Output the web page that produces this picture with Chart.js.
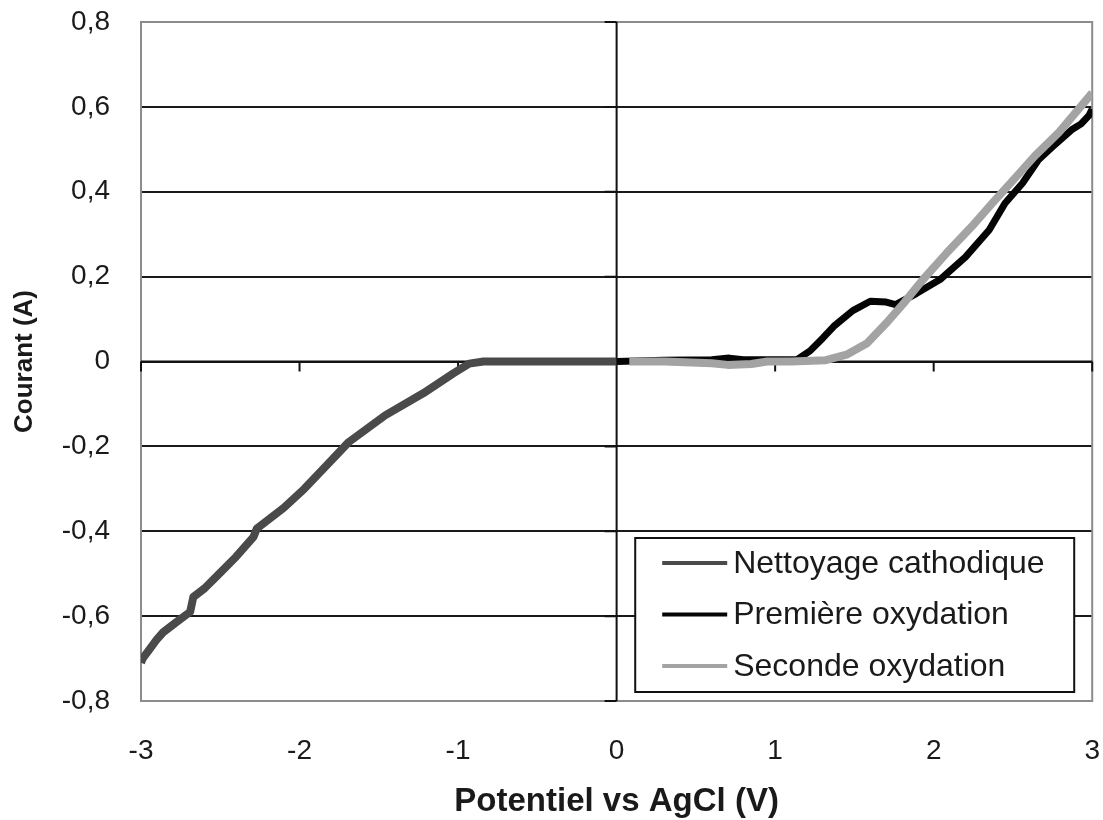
<!DOCTYPE html>
<html>
<head>
<meta charset="utf-8">
<script src="https://cdn.jsdelivr.net/npm/chart.js@4"></script>
<style>
  body { margin: 0; background: #fff; }
  canvas { display: block; }
</style>
</head>
<body>
<canvas id="cvChart" width="1103" height="820"></canvas>
<script>
// values (potential in V, current in A)
const nettoyageX = [-3.0, -2.99, -2.95, -2.9, -2.86, -2.78, -2.69, -2.67, -2.6, -2.52, -2.4, -2.29, -2.27, -2.1, -1.97, -1.83, -1.69, -1.46, -1.22, -1.03, -0.93, -0.84, -0.5, 0.0];
const nettoyageY = [-0.71, -0.70, -0.68, -0.655, -0.638, -0.615, -0.59, -0.555, -0.535, -0.505, -0.46, -0.413, -0.394, -0.345, -0.30, -0.245, -0.19, -0.127, -0.075, -0.028, -0.005, 0, 0, 0];

const premiereX = [0.0, 0.3, 0.6, 0.71, 0.8, 1.0, 1.14, 1.22, 1.3, 1.37, 1.49, 1.6, 1.7, 1.76, 1.89, 2.04, 2.2, 2.35, 2.45, 2.56, 2.66, 2.75, 2.87, 2.93, 2.98, 3.0];
const premiereY = [0.0, 0.003, 0.004, 0.008, 0.004, 0.004, 0.005, 0.025, 0.055, 0.083, 0.12, 0.142, 0.14, 0.134, 0.16, 0.193, 0.246, 0.31, 0.373, 0.42, 0.475, 0.506, 0.546, 0.56, 0.58, 0.595];

const secondeX = [0.08, 0.3, 0.6, 0.7, 0.85, 0.95, 1.1, 1.32, 1.45, 1.58, 1.7, 1.81, 1.93, 2.08, 2.24, 2.37, 2.52, 2.64, 2.79, 2.91, 3.0];
const secondeY = [0.0, 0.0, -0.004, -0.008, -0.006, 0.0, 0.0, 0.003, 0.016, 0.043, 0.09, 0.137, 0.192, 0.255, 0.318, 0.373, 0.435, 0.485, 0.54, 0.593, 0.633];

const seriesNames = ['Nettoyage cathodique', 'Première oxydation', 'Seconde oxydation'];
const xTitle = 'Potentiel vs AgCl (V)';
const yTitle = 'Courant (A)';

const toPoints = (xs, ys) => xs.map((x, i) => ({ x: x, y: ys[i] }));

const FONT = '"Liberation Sans", Arial, sans-serif';

// axes crossing at 0, plot frame and the boxed legend (Excel look)
const excelAxes = {
  id: 'excelAxes',
  beforeDatasetsDraw(chart) {
    const { ctx, chartArea: a, scales: { x, y } } = chart;
    const x0 = x.getPixelForValue(0);
    const y0 = y.getPixelForValue(0);
    ctx.save();
    ctx.strokeStyle = '#8c8c8c';
    ctx.lineWidth = 2;
    ctx.strokeRect(a.left, a.top, a.right - a.left, a.bottom - a.top);

    ctx.strokeStyle = '#111';
    ctx.lineWidth = 2;
    ctx.beginPath();
    ctx.moveTo(a.left, y0);
    ctx.lineTo(a.right, y0);
    x.ticks.forEach(t => {
      const px = x.getPixelForValue(t.value);
      ctx.moveTo(px, y0);
      ctx.lineTo(px, y0 + 10);
    });
    ctx.moveTo(x0, a.top);
    ctx.lineTo(x0, a.bottom);
    y.ticks.forEach(t => {
      const py = y.getPixelForValue(t.value);
      ctx.moveTo(x0 - 12, py);
      ctx.lineTo(x0, py);
    });
    ctx.stroke();
    ctx.restore();
  },
  afterDraw(chart) {
    const { ctx, chartArea: a } = chart;
    const w = 439, h = 154;
    const left = a.right - 18 - w;
    const top = a.bottom - 9 - h;
    ctx.save();
    ctx.fillStyle = '#fff';
    ctx.fillRect(left, top, w, h);
    ctx.strokeStyle = '#111';
    ctx.lineWidth = 2;
    ctx.strokeRect(left, top, w, h);
    ctx.font = '32px ' + FONT;
    ctx.textBaseline = 'middle';
    ctx.textAlign = 'left';
    chart.data.datasets.forEach((ds, i) => {
      const rowY = top + 25 + i * 51.5;
      ctx.strokeStyle = ds.borderColor;
      ctx.lineWidth = 4;
      ctx.beginPath();
      ctx.moveTo(left + 27, rowY);
      ctx.lineTo(left + 92, rowY);
      ctx.stroke();
      ctx.fillStyle = '#1a1a1a';
      ctx.fillText(ds.label, left + 98, rowY + 1);
    });
    ctx.restore();
  }
};

const fmtY = v => (Math.abs(v) < 1e-9 ? '0' : v.toFixed(1).replace('.', ','));
const fmtX = v => String(Math.round(v));

const ctx = document.getElementById('cvChart').getContext('2d');

const cvChart = new Chart(ctx, {
  type: 'line',
  data: {
    datasets: [
      {
        label: seriesNames[0],
        data: toPoints(nettoyageX, nettoyageY),
        borderColor: '#4a4a4a',
        borderWidth: 8,
        order: 2
      },
      {
        label: seriesNames[1],
        data: toPoints(premiereX, premiereY),
        borderColor: '#050505',
        borderWidth: 7,
        order: 1
      },
      {
        label: seriesNames[2],
        data: toPoints(secondeX, secondeY),
        borderColor: '#a3a3a3',
        borderWidth: 8,
        order: 0
      }
    ]
  },
  options: {
    responsive: false,
    animation: false,
    devicePixelRatio: 1,
    layout: { padding: { left: 0, top: 22, right: 10, bottom: 0 } },
    elements: {
      point: { radius: 0 },
      line: { tension: 0, fill: false, borderJoinStyle: 'round' }
    },
    plugins: {
      legend: { display: false },
      tooltip: { enabled: false }
    },
    scales: {
      x: {
        type: 'linear',
        min: -3,
        max: 3,
        afterFit: s => { s.height = 119; },
        border: { display: false },
        grid: { drawOnChartArea: false, drawTicks: true, tickLength: 30, tickColor: 'rgba(0,0,0,0)' },
        ticks: {
          stepSize: 1,
          padding: 3,
          color: '#1a1a1a',
          font: { family: FONT, size: 28 },
          callback: v => fmtX(v)
        },
        title: {
          display: true,
          text: xTitle,
          color: '#1a1a1a',
          padding: { top: 0, bottom: 2 },
          font: { family: FONT, size: 33, weight: 'bold', lineHeight: 1 }
        }
      },
      y: {
        type: 'linear',
        min: -0.8,
        max: 0.8,
        afterFit: s => { s.width = 141; },
        border: { display: false },
        grid: {
          drawTicks: true,
          tickLength: 28,
          tickColor: 'rgba(0,0,0,0)',
          lineWidth: 2,
          color: c => (c.tick && Math.abs(c.tick.value) > 0.79 ? 'rgba(0,0,0,0)' : '#1a1a1a')
        },
        ticks: {
          stepSize: 0.2,
          padding: 3,
          color: '#1a1a1a',
          font: { family: FONT, size: 28 },
          callback: v => fmtY(v)
        },
        title: {
          display: true,
          text: yTitle,
          color: '#1a1a1a',
          padding: { top: 9, bottom: 0 },
          font: { family: FONT, size: 26, weight: 'bold', lineHeight: 1.2 }
        }
      }
    }
  },
  plugins: [excelAxes]
});
</script>
</body>
</html>
